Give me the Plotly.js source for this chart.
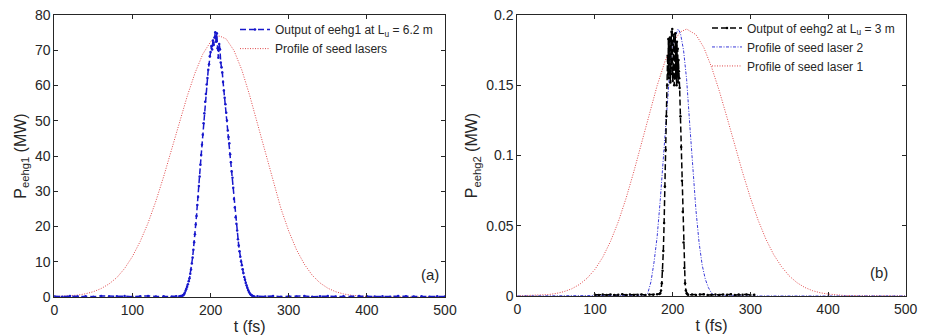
<!DOCTYPE html>
<html>
<head>
<meta charset="utf-8">
<script src="https://cdn.plot.ly/plotly-3.0.1.min.js"></script>
<style>html,body{margin:0;padding:0;background:#fff;}#chart{width:931px;height:336px;}</style>
</head>
<body>
<div id="chart"></div>
<script>
// ---------- Panel (a) ----------
// Profile of seed lasers (MW)
var tSeedA = [0,10,20,30,40,50,60,70,80,90,100,110,120,130,140,150,160,170,180,190,200,210,212,220,230,240,250,260,270,280,290,300,310,320,330,340,350,360,370,380,390,400,410,420,500];
var pSeedA = [0.09,0.17,0.31,0.54,0.91,1.5,2.4,3.7,5.5,8.1,11.5,15.8,21.0,27.2,34.2,41.8,49.5,56.9,63.5,68.9,72.4,74.0,74.0,73.2,69.9,64.4,57.2,49.1,40.7,32.5,25.1,18.7,13.4,9.3,6.2,4.0,2.5,1.5,0.87,0.49,0.26,0.13,0.06,0.02,0];

// Output of eehg1 at Lu = 6.2 m (MW)
var tOutA = [0,10,20,30,40,50,60,70,80,90,100,110,120,130,140,150,156,
  160,161,162,163,164,165,166,167,168,169,170,171,172,173,174,175,176,177,178,179,
  180,181,182,183,184,185,186,187,188,189,190,191,192,193,194,195,196,197,198,199,
  200,201,202,203,204,205,206,207,208,209,210,211,212,213,214,215,216,217,218,219,
  220,221,222,223,224,225,226,227,228,229,230,231,232,233,234,235,236,237,238,239,
  240,241,242,243,244,245,246,247,248,249,250,251,252,253,254,255,256,
  260,270,280,290,300,310,320,330,340,350,360,370,380,390,400,410,420,430,440,450,460,470,480,490,500];
var pOutA = [0.2,0.1,0.25,0.15,0.2,0.1,0.3,0.15,0.2,0.25,0.1,0.2,0.3,0.15,0.2,0.1,0.2,
  0.2,0.1,0.3,0.2,0.4,0.5,0.8,1.2,1.8,2.3,2.9,3.6,4.5,5.3,6.6,7.8,9.5,11.2,13.4,15.5,
  17.8,20.6,23.0,26.1,28.4,31.5,34.2,37.5,40.3,43.2,46.0,49.3,52.1,55.4,57.6,60.3,62.1,64.5,66.0,68.3,
  69.5,71.2,70.2,72.8,71.5,73.6,75.1,72.4,74.8,70.6,67.9,71.8,70.3,66.5,65.2,63.7,61.0,58.6,56.5,54.7,
  52.3,50.1,47.2,45.4,43.6,40.5,38.2,35.6,33.8,31.0,27.8,25.4,22.6,20.8,18.9,16.4,14.6,13.0,11.4,10.1,
  9.0,7.9,6.8,5.7,4.9,4.0,3.3,2.6,2.0,1.5,1.1,0.8,0.6,0.4,0.3,0.2,0.1,
  0.2,0.15,0.25,0.1,0.2,0.15,0.3,0.1,0.2,0.25,0.15,0.2,0.1,0.3,0.2,0.15,0.2,0.1,0.25,0.2,0.15,0.2,0.1,0.2,0.15];

// ---------- Panel (b) ----------
// Profile of seed laser 1 (MW)
var tSeedB1 = [0,10,20,30,40,50,60,70,80,90,100,110,120,130,140,150,160,170,180,190,200,210,218,230,240,250,260,270,280,290,300,310,320,330,340,350,360,370,380,390,400,410,420,430,440,500];
var pSeedB1 = [0.0001,0.0002,0.0003,0.0006,0.001,0.0018,0.0031,0.0051,0.0082,0.0127,0.019,0.0276,0.0389,0.0528,0.0695,0.0885,0.109,0.130,0.1497,0.1668,0.180,0.188,0.190,0.186,0.177,0.163,0.146,0.127,0.107,0.088,0.070,0.054,0.0405,0.0295,0.021,0.0143,0.0095,0.0061,0.0038,0.0023,0.0014,0.0008,0.0004,0.0002,0.0001,0];

// Profile of seed laser 2 (MW)
var tSeedB2 = [0,100,160,164,168,172,176,180,184,188,192,196,200,204,207,210,214,218,222,226,230,234,238,242,246,250,254,300,400,500];
var pSeedB2 = [0,0,0,0.0005,0.002,0.01,0.024,0.042,0.068,0.100,0.132,0.158,0.176,0.186,0.190,0.187,0.175,0.154,0.122,0.090,0.061,0.038,0.022,0.012,0.006,0.002,0.0003,0,0,0];

// Output of eehg2 at Lu = 3 m (MW)
var tOutB = [100,105,110,115,120,125,130,135,140,145,150,155,160,165,170,175,180,
  183,184,185,186,187,188,189,190,191,192,
  193,193.5,194,194.5,195,195.5,196,196.5,197,197.5,198,198.5,199,199.5,200,200.5,
  201,201.5,202,202.5,203,203.5,204,204.5,205,205.5,206,206.5,207,207.5,208,208.5,
  209,210,211,212,213,214,215,216,217,218,219,
  220,225,230,235,240,245,250,255,260,265,270,275,280,285,290,295,300,305];
var pOutB = [0.0009,0.0007,0.0010,0.0008,0.0011,0.0007,0.0009,0.0012,0.0008,0.0010,0.0007,0.0009,0.0011,0.0008,0.0010,0.0009,0.0012,
  0.0015,0.002,0.004,0.009,0.018,0.032,0.052,0.078,0.104,0.128,
  0.150,0.171,0.158,0.183,0.155,0.176,0.160,0.184,0.152,0.172,0.165,0.188,0.158,0.190,0.153,0.179,
  0.161,0.186,0.150,0.174,0.163,0.187,0.155,0.178,0.150,0.181,0.158,0.176,0.152,0.168,0.160,0.155,
  0.148,0.128,0.106,0.082,0.060,0.038,0.020,0.009,0.004,0.002,0.0012,
  0.0009,0.0011,0.0008,0.0010,0.0012,0.0007,0.0009,0.0011,0.0008,0.0010,0.0009,0.0012,0.0007,0.0010,0.0009,0.0011,0.0008,0.0009];

var xTicks = [0,100,200,300,400,500];

var FONT = 'Liberation Sans, Arial, Helvetica, sans-serif';
var AX = '#262626';

var traces = [
  {x: tSeedA, y: pSeedA, xaxis: 'x', yaxis: 'y', mode: 'lines', name: 'Profile of seed lasers',
   line: {color: '#e0484a', width: 1, dash: '1px,1.5px'}, legend: 'legend', legendrank: 2},
  {x: tOutA, y: pOutA, xaxis: 'x', yaxis: 'y', mode: 'lines+markers', name: 'Output of eehg1 at L<sub>u</sub> = 6.2 m',
   line: {color: '#1818cc', width: 1.5, dash: '6px,3px'}, marker: {size: 2.5, color: '#1818cc'}, legend: 'legend', legendrank: 1},

  {x: tSeedB1, y: pSeedB1, xaxis: 'x2', yaxis: 'y2', mode: 'lines', name: 'Profile of seed laser 1',
   line: {color: '#e0484a', width: 1, dash: '1px,1.5px'}, legend: 'legend2', legendrank: 3},
  {x: tSeedB2, y: pSeedB2, xaxis: 'x2', yaxis: 'y2', mode: 'lines', name: 'Profile of seed laser 2',
   line: {color: '#3a3ad8', width: 1, dash: '3px,1.5px,1px,1.5px'}, legend: 'legend2', legendrank: 2},
  {x: tOutB, y: pOutB, xaxis: 'x2', yaxis: 'y2', mode: 'lines+markers', name: 'Output of eehg2 at L<sub>u</sub> = 3 m',
   line: {color: '#000000', width: 1.5, dash: '6px,3px'}, marker: {size: 2.5, color: '#000000'}, legend: 'legend2', legendrank: 1}
];

function xa(domain, anchor) {
  return {domain: domain, anchor: anchor, range: [0, 500], tickvals: xTicks, ticks: 'inside', ticklen: 4,
    tickcolor: AX, showline: true, linecolor: AX, linewidth: 1, mirror: 'ticks', showgrid: false, zeroline: false,
    tickfont: {size: 14, color: AX}, title: {text: 't (fs)', font: {size: 16, color: AX}, standoff: 4}};
}
function ya(domain, anchor, range, dtick, title) {
  return {domain: domain, anchor: anchor, range: range, dtick: dtick, ticks: 'inside', ticklen: 4,
    tickcolor: AX, showline: true, linecolor: AX, linewidth: 1, mirror: 'ticks', showgrid: false, zeroline: false,
    tickfont: {size: 14, color: AX}, title: {text: title, font: {size: 16, color: AX}, standoff: 4}};
}

var layout = {
  width: 931, height: 336,
  margin: {l: 0, r: 0, t: 0, b: 0},
  paper_bgcolor: '#ffffff', plot_bgcolor: '#ffffff',
  font: {family: FONT, color: AX},
  showlegend: true,
  xaxis: xa([54.3/931, 445/931], 'y'),
  yaxis: ya([39/336, 321/336], 'x', [0, 80], 10, 'P<sub>eehg1</sub> (MW)'),
  xaxis2: xa([517.3/931, 905.7/931], 'y2'),
  yaxis2: ya([40/336, 321/336], 'x2', [0, 0.2], 0.05, 'P<sub>eehg2</sub> (MW)'),
  legend: {x: 235/931, y: 0.955, xanchor: 'left', yanchor: 'top', bgcolor: 'rgba(0,0,0,0)', borderwidth: 0,
    font: {size: 12, color: AX}, itemwidth: 30, tracegroupgap: 0},
  legend2: {x: 707/931, y: 0.96, xanchor: 'left', yanchor: 'top', bgcolor: 'rgba(0,0,0,0)', borderwidth: 0,
    font: {size: 12, color: AX}, itemwidth: 30, tracegroupgap: 0},
  annotations: [
    {text: '(a)', xref: 'paper', yref: 'paper', x: 430/931, y: (336-285)/336, showarrow: false, font: {size: 15, color: AX}},
    {text: '(b)', xref: 'paper', yref: 'paper', x: 890/931, y: (336-283)/336, showarrow: false, font: {size: 15, color: AX}}
  ]
};

Plotly.newPlot('chart', traces, layout, {displayModeBar: false, staticPlot: true});
</script>
</body>
</html>
